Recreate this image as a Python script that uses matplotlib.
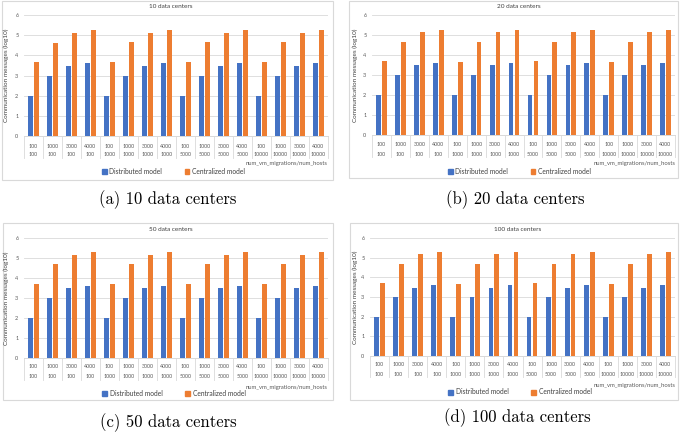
import matplotlib.pyplot as plt
import matplotlib.transforms as mtransforms
from matplotlib.lines import Line2D
from matplotlib.patches import Patch, Rectangle
import numpy as np

# data
migrations = ["100", "1000", "3000", "4000", "100", "1000", "3000", "4000",
              "100", "1000", "3000", "4000", "100", "1000", "3000", "4000"]
hosts = ["100", "100", "100", "100", "1000", "1000", "1000", "1000",
         "5000", "5000", "5000", "5000", "10000", "10000", "10000", "10000"]

distributed = [2.0, 3.0, 3.48, 3.6, 2.0, 3.0, 3.48, 3.6,
               2.0, 3.0, 3.48, 3.6, 2.0, 3.0, 3.48, 3.6]

central_10 = [3.65, 4.63, 5.13, 5.25, 3.65, 4.64, 5.13, 5.25,
              3.67, 4.65, 5.12, 5.25, 3.65, 4.65, 5.13, 5.24]
central_20 = [3.68, 4.67, 5.15, 5.27, 3.66, 4.67, 5.15, 5.26,
              3.68, 4.67, 5.15, 5.26, 3.65, 4.67, 5.14, 5.25]
central_50 = [3.69, 4.69, 5.16, 5.28, 3.69, 4.69, 5.16, 5.28,
              3.69, 4.69, 5.16, 5.28, 3.69, 4.69, 5.16, 5.28]
central_100 = [3.70, 4.70, 5.17, 5.29, 3.68, 4.70, 5.17, 5.29,
               3.70, 4.69, 5.17, 5.29, 3.68, 4.70, 5.17, 5.29]

titles = ["10 data centers", "20 data centers", "50 data centers", "100 data centers"]
captions = ["(a) 10 data centers", "(b) 20 data centers",
            "(c) 50 data centers", "(d) 100 data centers"]
centralized = [central_10, central_20, central_50, central_100]

W, H = 685, 433
BLUE = "#4472C4"
ORANGE = "#ED7D31"
GRID = "#d9d9d9"
TXT = "#595959"

# pixel layout of each panel (y measured from top)
layouts = [
    dict(box=(2, 1, 333, 180), plot=(24, 15, 328, 136), title=7, ylab=6,
         row1=146, row2=154, sep=158, axlab=164, leg=171, cap=(168, 200)),
    dict(box=(349, 1, 678, 178), plot=(372, 15, 675, 135), title=7, ylab=355,
         row1=144, row2=154, sep=157, axlab=164, leg=171, cap=(515, 200)),
    dict(box=(3, 223, 333, 400), plot=(24, 238, 328, 358), title=230, ylab=6,
         row1=366, row2=377, sep=380, axlab=387, leg=393, cap=(168, 423)),
    dict(box=(350, 223, 678, 400), plot=(370, 238, 675, 356), title=230, ylab=355,
         row1=364, row2=374, sep=377, axlab=385, leg=392, cap=(517, 418)),
]


def fx(x):
    return x / W


def fy(y):
    return 1 - y / H


plt.rcParams["font.family"] = ["Lato", "DejaVu Sans"]
fig = plt.figure(figsize=(W / 100, H / 100), dpi=100)

x = np.arange(len(migrations))
bar_w = 0.25

for lay, title, cap, cen in zip(layouts, titles, captions, centralized):
    bx0, by0, bx1, by1 = lay["box"]
    fig.add_artist(Rectangle((fx(bx0), fy(by1)), (bx1 - bx0) / W, (by1 - by0) / H,
                             transform=fig.transFigure, facecolor="white",
                             edgecolor=GRID, lw=0.8, zorder=0))

    px0, py0, px1, py1 = lay["plot"]
    ax = fig.add_axes([fx(px0), fy(py1), (px1 - px0) / W, (py1 - py0) / H])
    ax.set_facecolor("none")
    ax.bar(x - 0.155, distributed, width=bar_w, color=BLUE, zorder=3)
    ax.bar(x + 0.155, cen, width=bar_w, color=ORANGE, zorder=3)
    ax.set_xlim(-0.5, len(x) - 0.5)
    ax.set_ylim(0, 6)
    ax.set_yticks(range(7))
    ax.set_xticks([])
    ax.yaxis.grid(True, color=GRID, lw=0.6, zorder=0)
    for s in ["top", "right", "left"]:
        ax.spines[s].set_visible(False)
    ax.spines["bottom"].set_color(GRID)
    ax.spines["bottom"].set_linewidth(0.7)
    ax.tick_params(axis="y", length=0, labelsize=4, labelcolor=TXT, pad=4)

    # two-level category table under the axis
    blend = mtransforms.blended_transform_factory(ax.transData, fig.transFigure)
    for i in range(len(x)):
        ax.text(i, fy(lay["row1"]), migrations[i], transform=blend, ha="center",
                va="center", fontsize=3.8, color=TXT)
        ax.text(i, fy(lay["row2"]), hosts[i], transform=blend, ha="center",
                va="center", fontsize=3.8, color=TXT)
    for i in range(len(x) + 1):
        ax.add_line(Line2D([i - 0.5, i - 0.5], [fy(py1), fy(lay["sep"])],
                           transform=blend, color=GRID, lw=0.6, clip_on=False))

    fig.text(fx(px1), fy(lay["axlab"]), "num_vm_migrations/num_hosts", ha="right",
             va="center", fontsize=4.2, color=TXT)
    fig.text(fx((px0 + px1) / 2 - 5), fy(lay["title"]), title, ha="center",
             va="center", fontsize=4.6, color="#404040")
    fig.text(fx(lay["ylab"]), fy((py0 + py1) / 2), "Communication messages (log10)",
             rotation=90, ha="center", va="center", fontsize=4.6, color="#404040")

    handles = [Patch(color=BLUE, label="Distributed model"),
               Patch(color=ORANGE, label="Centralized model")]
    fig.legend(handles=handles, loc="center",
               bbox_to_anchor=(fx((bx0 + bx1) / 2 + 6), fy(lay["leg"])),
               ncol=2, frameon=False, fontsize=4.8, handlelength=0.7,
               handleheight=0.7, handletextpad=0.4, columnspacing=3.4,
               labelcolor="#404040")

    fig.text(fx(lay["cap"][0]), fy(lay["cap"][1]), cap, ha="center",
             va="center", fontsize=12, family="cmr10")

fig.savefig("out.png", dpi=100)
